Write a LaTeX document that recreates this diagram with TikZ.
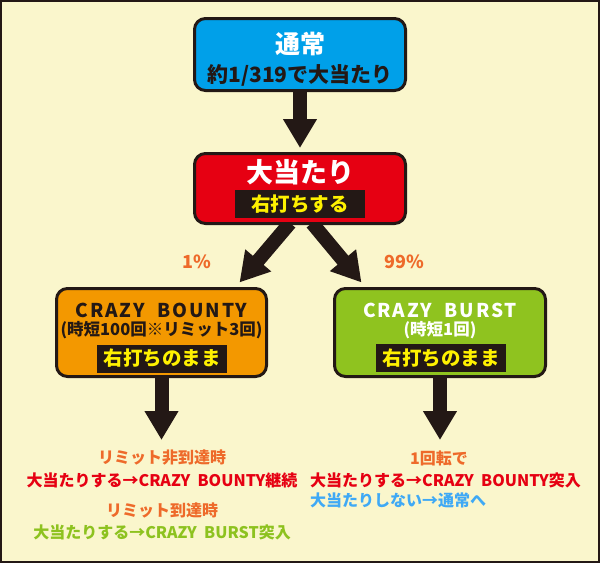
\documentclass[tikz,border=0pt]{standalone}
\usepackage{fontspec}
\setmainfont{Noto Sans CJK JP}
\newfontfamily\spacedfont[LetterSpace=10]{Noto Sans CJK JP}
\usetikzlibrary{arrows.meta,calc}
\definecolor{bgc}{HTML}{FAF6CC}
\definecolor{ink}{HTML}{231815}
\definecolor{cyanbox}{HTML}{00A0E9}
\definecolor{redbox}{HTML}{E60012}
\definecolor{orangebox}{HTML}{F39800}
\definecolor{greenbox}{HTML}{8FC31F}
\definecolor{yel}{HTML}{FFF100}
\definecolor{orangetxt}{HTML}{EE6A2A}
\definecolor{redtxt}{HTML}{E60012}
\definecolor{greentxt}{HTML}{8DC21F}
\definecolor{bluetxt}{HTML}{3FA9F5}
\newcommand\myfs[1]{\fontsize{#1}{#1}\selectfont}
\pgfdeclarelayer{back}
\pgfdeclarelayer{arr}
\pgfsetlayers{back,arr,main}
\begin{document}
\begin{tikzpicture}[x=1pt,y=-1pt,
  box/.style={draw=ink, line width=3pt, rounded corners=11pt, inner sep=0pt},
  lbl/.style={fill=ink, inner sep=0pt, text=yel, minimum width=130pt, minimum height=28pt, font=\bfseries\myfs{19.5}},
  blk/.style={line width=14pt, draw=ink, -{Triangle[length=29pt,width=32pt]}},
  txt/.style={inner sep=0pt, font=\bfseries}
]
\useasboundingbox (0,0) rectangle (600,563);
\begin{pgfonlayer}{back}
\fill[bgc] (0,0) rectangle (600,563);
\draw[ink, line width=2pt] (1,1) rectangle (599,562);
\end{pgfonlayer}

% boxes
\node[box, fill=cyanbox, minimum width=211pt, minimum height=72pt] (top) at (300,54.5) {};
\node[box, fill=redbox, minimum width=211pt, minimum height=70pt] (b2) at (300,188.5) {};
\node[box, fill=orangebox, minimum width=210pt, minimum height=88pt] (lb) at (161.5,332.5) {};
\node[box, fill=greenbox, minimum width=211pt, minimum height=88pt] (rb) at (440,332.5) {};

% box texts
\node[txt, text=white, font=\bfseries\myfs{25}] (t1) at (300,44) {通常};
\node[txt, text=ink, font=\bfseries\myfs{21}] (t2) at (300,75) {約1/319で大当たり};
\node[txt, text=white, font=\bfseries\myfs{27}] (t3) at (300,172) {大当たり};
\node[lbl] (l1) at (300,204) {右打ちする};

\node[txt, text=ink, font=\spacedfont\bfseries\myfs{19}] (t4) at (161.5,310) {CRAZY\ \ BOUNTY};
\node[txt, text=ink, font=\bfseries\myfs{16.5}] (t5) at (161.5,330) {(時短100回※リミット3回)};
\node[lbl] (l2) at (162,358.5) {右打ちのまま};

\node[txt, text=white, font=\spacedfont\bfseries\myfs{19}] (t6) at (440,310) {CRAZY\ \ BURST};
\node[txt, text=white, font=\bfseries\myfs{16.5}] (t7) at (440,330) {(時短1回)};
\node[lbl] (l3) at (441,358) {右打ちのまま};

% percentages
\node[txt, text=orangetxt, font=\bfseries\myfs{18}] (p1) at (197,262) {1\%};
\node[txt, text=orangetxt, font=\bfseries\myfs{18}] (p2) at (404,262) {99\%};

% bottom texts
\node[txt, text=orangetxt, font=\bfseries\myfs{16}] (a1) at (162,458) {リミット非到達時};
\node[txt, text=redtxt, font=\bfseries\myfs{16}] (a2) at (162,480) {大当たりする→CRAZY\ \ BOUNTY継続};
\node[txt, text=orangetxt, font=\bfseries\myfs{16}] (a3) at (162,510) {リミット到達時};
\node[txt, text=greentxt, font=\bfseries\myfs{16}] (a4) at (162,532) {大当たりする→CRAZY\ \ BURST突入};

\node[txt, text=orangetxt, font=\bfseries\myfs{16}] (c1) at (439,458) {1回転で};
\node[txt, text=redtxt, font=\bfseries\myfs{16}, anchor=west] (c2) at (310,480) {大当たりする→CRAZY\ \ BOUNTY突入};
\node[txt, text=bluetxt, font=\bfseries\myfs{16}, anchor=west] (c3) at (310,500) {大当たりしない→通常へ};

% arrow end coordinates
\coordinate (s1) at ($(b2.south)+(-10,-2)$);
\coordinate (e1) at ($(lb.north east)+(-28.5,-4.5)$);
\coordinate (s2) at ($(b2.south)+(12,-2)$);
\coordinate (e2) at ($(rb.north west)+(28.5,-4.5)$);
\coordinate (e3) at ($(lb.south)+(0,62)$);
\coordinate (e4) at ($(rb.south)+(0,62)$);

\begin{pgfonlayer}{arr}
\draw[blk] (top.south) -- ($(b2.north)+(0,-4)$);
\draw[blk] (s1) -- (e1);
\draw[blk] (s2) -- (e2);
\draw[blk] (lb.south) -- (e3);
\draw[blk] (rb.south) -- (e4);
\end{pgfonlayer}
\end{tikzpicture}
\end{document}
